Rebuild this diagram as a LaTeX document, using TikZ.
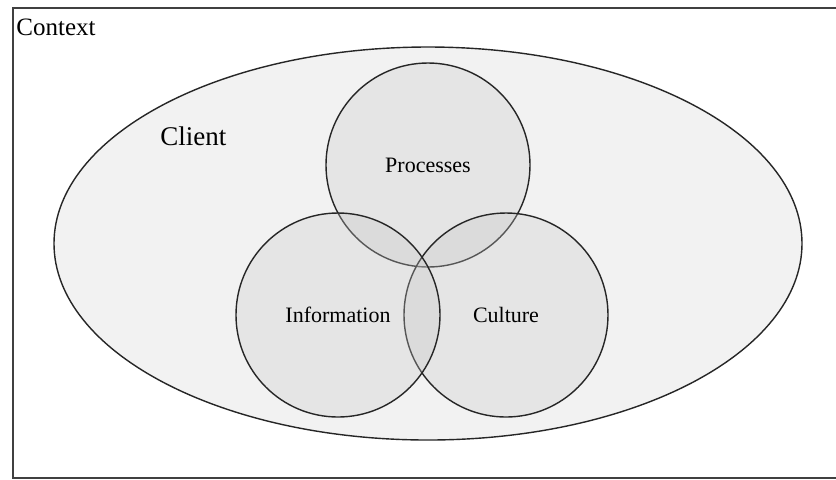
\documentclass[tikz,border=0pt]{standalone}
\usepackage{fontspec}
\setmainfont{Liberation Serif}
\usetikzlibrary{shapes.geometric}

\begin{document}
\begin{tikzpicture}[x=0.5pt, y=-0.5pt,
    frame/.style={draw=black!75, line width=0.8pt, anchor=north west, minimum width=416.5pt, minimum height=235pt},
    client/.style={ellipse, draw=black!85, fill=black!5, line width=0.7pt, minimum width=374pt, minimum height=196.5pt},
    area/.style={circle, draw=black!85, line width=0.7pt, fill=black!22, fill opacity=0.3, text opacity=1, minimum size=102pt, font=\fontsize{11}{13}\selectfont},
    tag/.style={anchor=base west, inner sep=0pt}
  ]
    \clip (0,0) rectangle (836,479);
    \fill[white] (0,0) rectangle (836,479);

    \node[frame]  (context) at (12,7) {};
    \node[tag, font=\fontsize{12.5}{14}\selectfont] (contextlbl) at (16,35.5) {Context};

    \node[client] (client) at (428,243.5) {};
    \node[tag, font=\fontsize{13.5}{15}\selectfont] (clientlbl) at (160,145) {Client};

    % circles, drawn back to front
    \node[area] (processes)   at (428,165) {Processes};
    \node[area] (culture)     at (506,315) {Culture};
    \node[area] (information) at (338,315) {Information};
  \end{tikzpicture}
\end{document}
